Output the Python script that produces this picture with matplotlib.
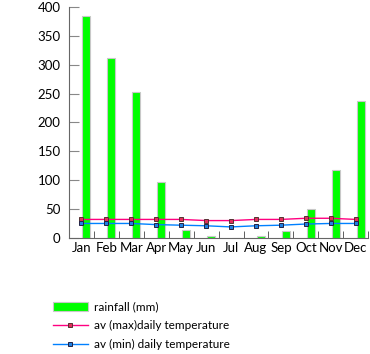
import numpy as np
import matplotlib.pyplot as plt

months = ['Jan', 'Feb', 'Mar', 'Apr', 'May', 'Jun', 'Jul', 'Aug', 'Sep', 'Oct', 'Nov', 'Dec']
rainfall = [385, 312, 253, 96, 14, 3, 0, 3, 12, 50, 118, 237]
tmax = [32, 32, 32, 32, 32, 30, 30, 32, 32, 34, 34, 32]
tmin = [25, 25, 25, 23, 22, 21, 19, 21, 22, 24, 25, 25]

plt.rcParams['font.family'] = ['Lato', 'DejaVu Sans']

fig = plt.figure(figsize=(3.7, 3.54), dpi=100)
ax = fig.add_axes([0.1865, 0.328, 0.8085, 0.652])

x = np.arange(len(months))
b = ax.bar(x + 0.2, rainfall, width=0.32, color='#00ff00', edgecolor='#c8c8c8',
           linewidth=0.8, label='rainfall (mm)', zorder=1)
l1, = ax.plot(x, tmax, color='#ff0080', lw=1, marker='s', ms=3.5, mfc='#e0305a',
              mec='#553333', mew=0.7, label='av (max)daily temperature', zorder=3)
l2, = ax.plot(x, tmin, color='#0080ff', lw=1, marker='s', ms=3.5, mfc='#2080e0',
              mec='#222244', mew=0.7, label='av (min) daily temperature', zorder=3)

ax.set_xlim(-0.5, 11.5)
ax.set_ylim(0, 400)
ax.set_yticks(range(0, 401, 50))
ax.set_xticks(x)
ax.set_xticklabels(months)
ax.set_xticks(np.arange(0.5, 12, 1), minor=True)
ax.tick_params(axis='x', which='major', length=0, labelsize=9.5, pad=3)
ax.tick_params(axis='x', which='minor', direction='in', length=5, color='#444444')
ax.tick_params(axis='y', direction='in', length=7, labelsize=9.5, color='#888888', pad=6)
for s in ['top', 'right']:
    ax.spines[s].set_visible(False)
ax.spines['left'].set_color('#666666')
ax.spines['bottom'].set_color('#666666')

fig.legend([b, l1, l2], [b.get_label(), l1.get_label(), l2.get_label()],
           loc='upper left', bbox_to_anchor=(48 / 370, 1 - 297 / 354), frameon=False,
           fontsize=8.5, handlelength=3.0, numpoints=1, labelspacing=0.65,
           handletextpad=0.5, borderaxespad=0, markerscale=0.8)

fig.savefig('out.png', dpi=100)
